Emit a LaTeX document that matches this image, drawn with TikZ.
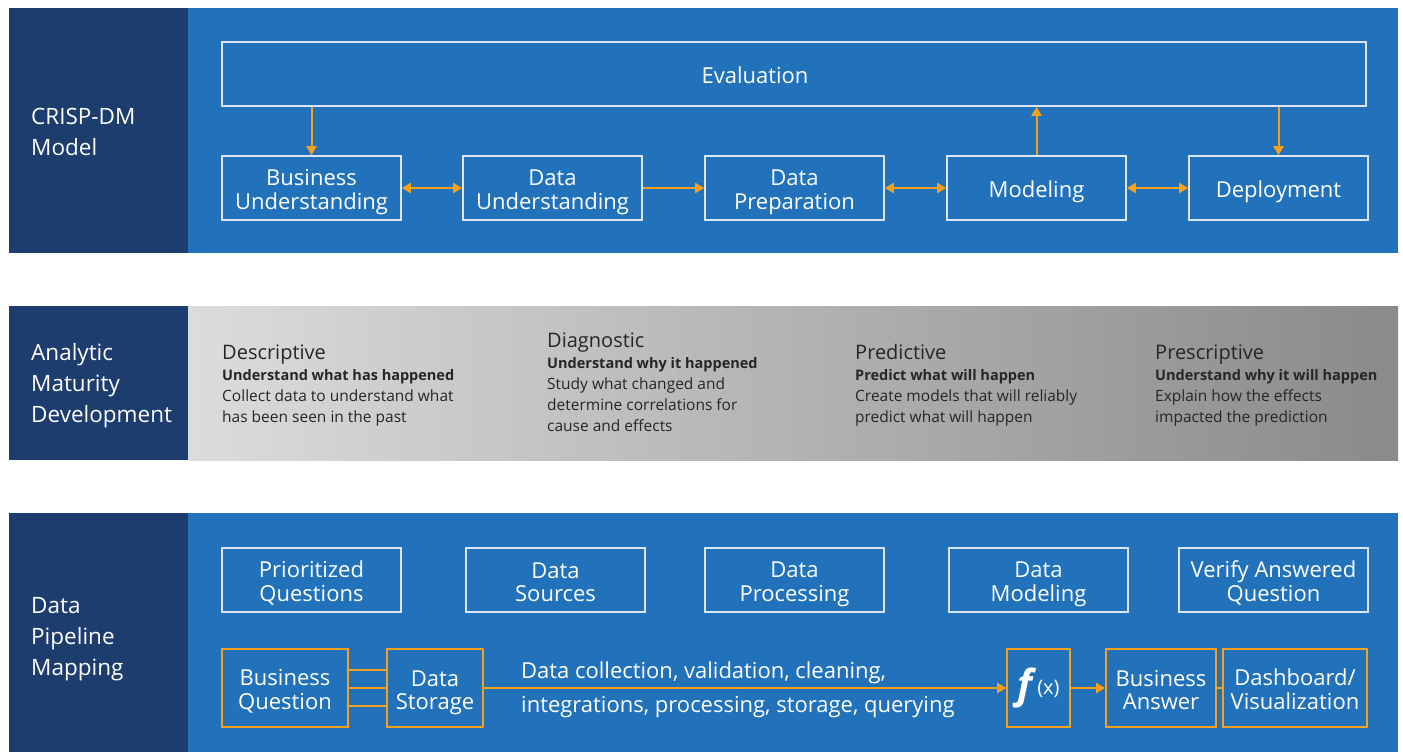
\documentclass[tikz,border=0pt]{standalone}
\usepackage{fontspec}
\setmainfont{Open Sans}
\usetikzlibrary{arrows.meta}
\definecolor{navy}{HTML}{1D3D6F}
\definecolor{crispblue}{HTML}{2172BA}
\definecolor{boxline}{HTML}{DCE7F3}
\definecolor{flowline}{HTML}{F7A11A}
\definecolor{grayL}{HTML}{DCDCDC}
\definecolor{grayR}{HTML}{8B8989}
% centred box text with fixed top and bottom struts
\newcommand{\boxlabel}[1]{\begin{tabular}{@{}c@{}}\rule{0pt}{26pt}#1\rule[-7pt]{0pt}{7pt}\end{tabular}}
\newcommand{\sidetext}[1]{\begin{tabular}{@{}l@{}}\rule{0pt}{26pt}#1\rule[-10pt]{0pt}{10pt}\end{tabular}}
\begin{document}
\begin{tikzpicture}[x=1pt, y=-1pt,
    box/.style={draw=boxline, line width=1.6pt, text=white, minimum width=179pt,
      minimum height=64pt, inner sep=0pt, font=\fontsize{22}{23}\selectfont},
    obox/.style={box, draw=flowline, minimum height=78pt},
    flow/.style={draw=flowline, line width=2pt},
    arr/.style={flow, -{Triangle[length=9pt,width=10pt]}},
    twoarr/.style={flow, {Triangle[length=9pt,width=10pt]}-{Triangle[length=9pt,width=10pt]}},
    sidelabel/.style={anchor=west, text=white, inner sep=0pt,
      font=\fontsize{22.5}{31}\selectfont},
    stage/.style={anchor=north west, align=left, inner sep=0pt, text=black!85,
      font=\fontsize{15.5}{21}\selectfont}]
  \useasboundingbox (0,0) rectangle (1403,753);

  % three bands
  \fill[navy] (9,8) rectangle (188,253);
  \fill[crispblue] (188,8) rectangle (1398,253);
  \fill[navy] (9,306) rectangle (188,460);
  \shade[left color=grayL, right color=grayR] (188,306) rectangle (1398,460);
  \fill[navy] (9,513) rectangle (188,752);
  \fill[crispblue] (188,513) rectangle (1398,752);

  \node[sidelabel] (crisp) at (31,131.5) {\sidetext{CRISP-DM\\Model}};
  \node[sidelabel] (maturity) at (31,383) {\sidetext{Analytic\\Maturity\\Development}};
  \node[sidelabel] (pipeline) at (31,636.5) {\sidetext{Data\\Pipeline\\Mapping}};

  % CRISP-DM cycle
  \node[box, minimum width=1144pt] (eval) at (794,74) {\boxlabel{Evaluation\hspace*{78pt}}};
  \node[box] (bu) at (311.5,188) {\boxlabel{Business\\Understanding}};
  \node[box] (du) at (552.5,188) {\boxlabel{Data\\Understanding}};
  \node[box] (dp) at (794.5,188) {\boxlabel{Data\\Preparation}};
  \node[box] (mod) at (1036.5,188) {\boxlabel{Modeling}};
  \node[box] (dep) at (1278.5,188) {\boxlabel{Deployment}};

  \draw[arr] (bu.north |- eval.south) -- (bu.north);
  \draw[arr] (mod.north) -- (mod.north |- eval.south);
  \draw[arr] (dep.north |- eval.south) -- (dep.north);
  \draw[twoarr] (bu) -- (du);
  \draw[arr] (du) -- (dp);
  \draw[twoarr] (dp) -- (mod);
  \draw[twoarr] (mod) -- (dep);

  % maturity stages
  \node[stage] (desc) at (222,345) {{\fontsize{20}{21}\selectfont Descriptive}\\
    \textbf{\fontsize{14.5}{21}\selectfont Understand what has happened}\\
    Collect data to understand what\\has been seen in the past};
  \node[stage] (diag) at (547,333) {{\fontsize{20}{21}\selectfont Diagnostic}\\
    \textbf{\fontsize{14.5}{21}\selectfont Understand why it happened}\\
    Study what changed and\\determine correlations for\\cause and effects};
  \node[stage] (pred) at (855,344) {{\fontsize{20}{21}\selectfont Predictive}\\
    \textbf{\fontsize{14.5}{21}\selectfont Predict what will happen}\\
    Create models that will reliably\\predict what will happen};
  \node[stage] (presc) at (1155,345) {{\fontsize{20}{21}\selectfont Prescriptive}\\
    \textbf{\fontsize{14.5}{21}\selectfont Understand why it will happen}\\
    Explain how the effects\\impacted the prediction};

  % pipeline steps
  \node[box] (pq) at (311.5,580) {\boxlabel{Prioritized\\Questions}};
  \node[box] (dsrc) at (555.5,580) {\boxlabel{Data\\Sources}};
  \node[box] (dproc) at (794.5,580) {\boxlabel{Data\\Processing}};
  \node[box] (dmod) at (1038.5,580) {\boxlabel{Data\\Modeling}};
  \node[box, minimum width=189pt] (verify) at (1273.5,580) {\boxlabel{Verify Answered\\Question}};

  \node[obox, minimum width=126pt] (bq) at (285,688) {\boxlabel{Business\\Question}};
  \node[obox, minimum width=96pt] (dstore) at (435,688) {\boxlabel{Data\\Storage}};
  \node[obox, minimum width=63pt] (fx) at (1038.5,688)
    {{\fontsize{40}{40}\selectfont\itshape\bfseries f}\hspace{5pt}\raisebox{4pt}{\fontsize{20}{20}\selectfont(x)}};
  \node[obox, minimum width=110pt] (bans) at (1161,688) {\boxlabel{Business\\Answer}};
  \node[obox, minimum width=144pt] (dash) at (1295,688) {\boxlabel{Dashboard/\\Visualization}};

  \foreach \dy in {-18,0,18}
    \draw[flow] ([yshift=\dy pt]bq.east) -- ([yshift=\dy pt]dstore.west);
  \draw[arr] (dstore) -- (fx);
  \draw[arr] (fx) -- (bans);
  \draw[flow] (bans) -- (dash);
  \node[anchor=west, align=left, text=white, inner sep=0pt, font=\fontsize{22}{34}\selectfont]
    (steps) at (521,690) {Data collection, validation, cleaning,\\integrations, processing, storage, querying};
\end{tikzpicture}
\end{document}
